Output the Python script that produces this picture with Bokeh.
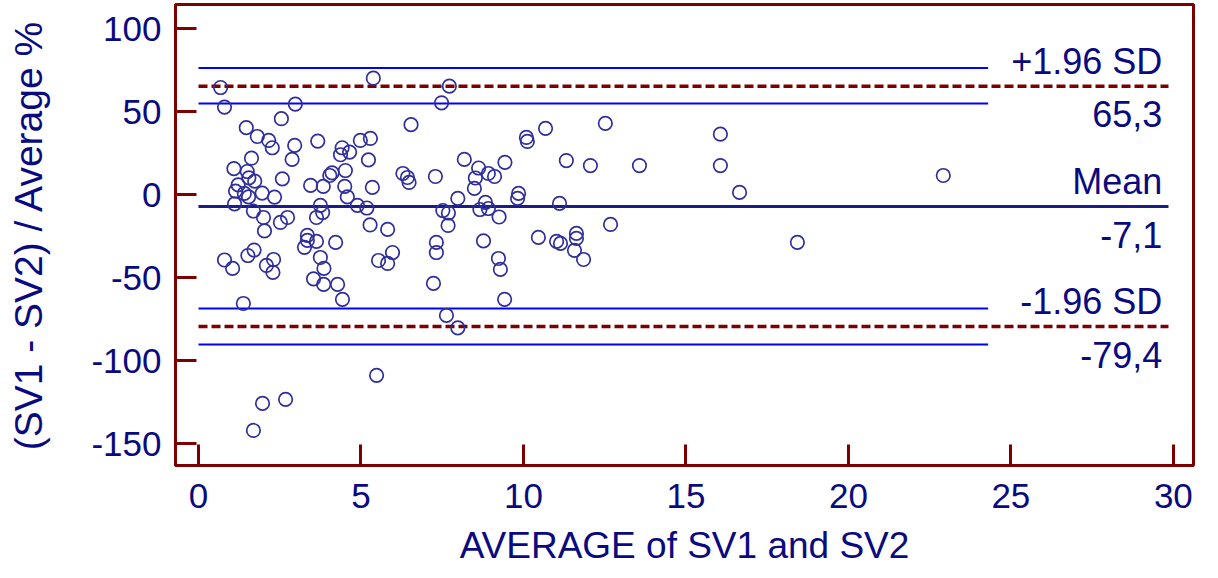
from bokeh.plotting import figure
from bokeh.models import FixedTicker, ColumnDataSource, Range1d, CustomJSTickFormatter
from bokeh.core.properties import value
from bokeh.embed import file_html
from bokeh.resources import INLINE

# ---- data ----
avg_sv = [0.68, 0.80, 2.98, 5.38, 7.72, 7.48, 6.54, 2.55, 1.47, 1.81, 2.16, 2.27, 2.96, 2.88,
          3.67, 4.42, 4.65, 4.37, 1.63, 1.09, 1.50, 1.55, 1.73, 1.22, 1.14, 1.41, 1.96, 2.34,
          2.58, 3.45, 3.84, 4.04, 4.11, 4.52, 4.50, 4.58, 1.11, 1.69, 2.00, 2.03, 2.52, 2.74,
          1.54, 3.75, 3.82, 3.63, 4.89, 5.18, 5.28, 5.82, 4.98, 5.29, 5.23, 5.35, 6.29, 6.43,
          6.48, 7.29, 8.18, 8.62, 8.52, 8.49, 8.92, 9.11, 9.43, 8.83, 8.66, 8.92, 9.25, 7.98,
          7.52, 7.69, 7.68, 7.32, 7.32, 7.23, 8.77, 9.85, 9.82, 10.09, 10.12, 10.68, 11.32,
          11.11, 12.06, 12.52, 13.57, 16.06, 16.06, 16.65, 18.43, 22.92, 12.68, 10.46, 11.02,
          11.14, 11.63, 11.63, 11.57, 11.85, 9.23, 9.29, 9.42, 3.35, 3.35, 3.63, 4.22, 3.26,
          0.80, 1.05, 1.52, 1.71, 2.09, 2.31, 2.29, 3.75, 3.86, 3.54, 3.85, 4.28, 4.43, 5.54,
          5.82, 5.97, 1.38, 7.63, 7.98, 5.48, 1.97, 2.68, 1.69]
diff_pct = [64.6, 52.8, 54.6, 70.2, 65.4, 55.4, 42.2, 45.8, 40.4, 35.1, 32.7, 28.3, 29.7, 21.3,
            32.3, 28.3, 25.7, 24.1, 22.0, 15.7, 14.0, 10.2, 8.2, 5.9, 2.2, 0.8, 1.0, -1.4,
            9.6, 5.6, 5.0, 11.6, 13.2, 14.6, 5.0, -1.3, -5.5, -9.8, -13.7, -21.8, -16.7, -13.7,
            -1.3, -6.4, -10.7, -13.7, -6.4, -8.0, -18.2, -20.9, 32.7, 33.9, 21.0, 4.4, 12.8, 10.4,
            7.4, 11.0, 21.3, 16.1, 10.1, 3.8, 12.8, 11.0, 19.5, -4.6, -8.9, -8.3, -13.4, -2.2,
            -9.5, -11.0, -18.5, -28.7, -34.8, -53.4, -27.8, 0.8, -2.2, 34.5, 32.1, 40.0, 20.6,
            -5.2, 17.6, 43.0, 17.6, 36.5, 17.6, 1.4, -28.7, 11.6, -17.9, -25.7, -28.1,
            -29.3, -23.3, -26.3, -33.5, -39.0, -38.4, -45.0, -63.0, -24.5, -27.5, -28.1, -28.7, -31.7,
            -39.3, -44.4, -36.6, -33.3, -42.6, -39.0, -46.8, -37.8, -44.4, -50.7, -54.0, -54.0, -63.0, -39.6,
            -41.4, -34.8, -65.5, -72.7, -80.2, -108.8, -125.7, -123.3, -142.0]

limit_values = [65.3, -7.1, -79.4]            # +1.96 SD, mean, -1.96 SD
limit_names = ["+1.96 SD", "Mean", "-1.96 SD"]
limit_texts = ["65,3", "-7,1", "-79,4"]
ci_values = [76.3, 55.0, -68.5, -90.2]        # confidence bounds of the limits of agreement

x_ticks = [0, 5, 10, 15, 20, 25, 30]
y_ticks = [-150, -100, -50, 0, 50, 100]

line_x_start = 0.0
limit_x_end = 29.85
ci_x_end = 24.3
label_x = 29.66

# ---- styles ----
MAROON = "#7d0000"
NAVY = "#0a0a80"
FONT = "Liberation Sans"

p = figure(frame_width=1018, frame_height=461, min_border_left=175, min_border_top=4,
           min_border_right=15, min_border_bottom=10,
           x_range=Range1d(-0.708, 30.62), y_range=Range1d(-163.1, 114.6),
           output_backend="svg", toolbar_location=None, tools="")

p.background_fill_color = "white"
p.border_fill_color = "white"
p.xgrid.grid_line_color = None
p.ygrid.grid_line_color = None
p.outline_line_color = MAROON
p.outline_line_width = 3

for ax in (p.xaxis[0], p.yaxis[0]):
    ax.axis_line_color = MAROON
    ax.axis_line_width = 3
    ax.major_tick_line_color = MAROON
    ax.major_tick_line_width = 3
    ax.major_tick_in = 21
    ax.major_tick_out = 0
    ax.minor_tick_line_color = None
    ax.major_label_text_font = FONT
    ax.major_label_text_font_size = "35px"
    ax.major_label_text_color = NAVY
    ax.axis_label_text_font = FONT
    ax.axis_label_text_font_size = "37px"
    ax.axis_label_text_font_style = "normal"
    ax.axis_label_text_color = NAVY
    ax.formatter = CustomJSTickFormatter(code="return String(tick);")

p.xaxis.ticker = FixedTicker(ticks=x_ticks)
p.yaxis.ticker = FixedTicker(ticks=y_ticks)
p.xaxis.axis_label = "AVERAGE of SV1 and SV2"
p.yaxis.axis_label = "(SV1 - SV2) / Average %"
p.yaxis.axis_label_text_font_size = "39px"
p.xaxis.major_label_standoff = 18
p.xaxis.axis_label_standoff = 14
p.yaxis.major_label_standoff = 14
p.yaxis.axis_label_standoff = 38

# confidence bound lines (blue)
p.segment(x0=[line_x_start] * len(ci_values), x1=[ci_x_end] * len(ci_values),
          y0=ci_values, y1=ci_values, line_color="#0000ff", line_width=2)
# limits of agreement (dashed maroon)
loa = [limit_values[0], limit_values[2]]
p.segment(x0=[line_x_start] * 2, x1=[limit_x_end] * 2, y0=loa, y1=loa,
          line_color=MAROON, line_width=3.5, line_dash="9 4")
# mean line
p.segment(x0=[line_x_start], x1=[limit_x_end], y0=[limit_values[1]], y1=[limit_values[1]],
          line_color="#1c1c88", line_width=3)

# points
src = ColumnDataSource(dict(x=avg_sv, y=diff_pct))
p.scatter("x", "y", source=src, size=13.5, marker="circle", fill_color=None,
          line_color="#2e2e9c", line_width=1.7)

# labels
p.text(x=[label_x] * 3, y=limit_values, text=limit_names, text_align="right",
       text_baseline="alphabetic", y_offset=-25, text_font=value(FONT),
       text_font_size="36px", text_color=NAVY)
p.text(x=[label_x] * 3, y=limit_values, text=limit_texts, text_align="right",
       text_baseline="alphabetic", y_offset=28, text_font=value(FONT),
       text_font_size="36px", text_color=NAVY)

open("out.html", "w").write(file_html(p, INLINE))
